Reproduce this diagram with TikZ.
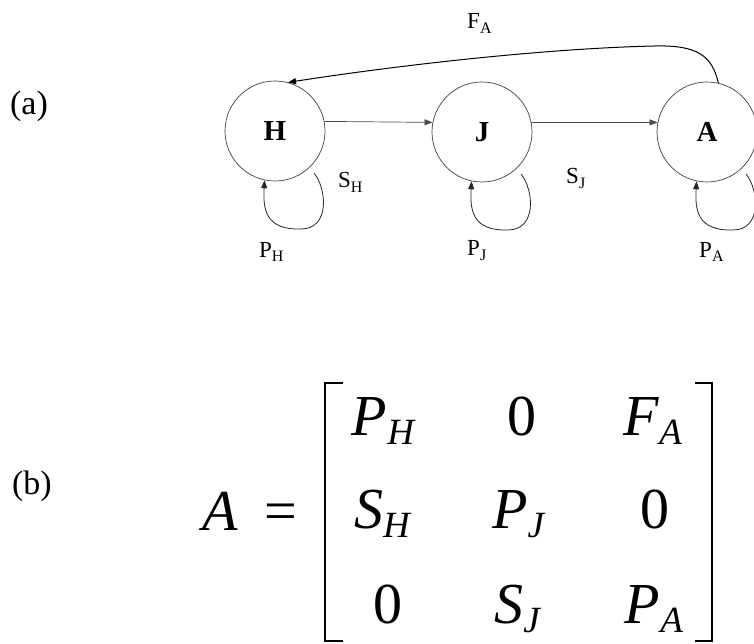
\documentclass[tikz,border=0pt]{standalone}
\usepackage{fontspec}
\setmainfont{Liberation Serif}
\usetikzlibrary{arrows.meta}
\newcommand\fs[1]{\fontsize{#1}{#1}\selectfont}
\newcommand\lab[2]{#1\raisebox{-5pt}{\fs{16}#2}}
\newcommand\ent[2]{\itshape #1\raisebox{-9pt}{\fs{37}\itshape #2}}
\newcommand\sloop[1]{\draw[loopln] ([shift={(39,42)}]#1.center) .. controls ([shift={(52,58)}]#1.center) and ([shift={(55,98)}]#1.center) .. ([shift={(26,98)}]#1.center) .. controls ([shift={(-10,99)}]#1.center) and ([shift={(-12,78)}]#1.center) .. (#1.-102);}
\begin{document}
\begin{tikzpicture}[x=1pt,y=-1pt,
  state/.style={circle,draw=black!75,line width=0.7pt,minimum size=100pt,inner sep=0pt,font=\fs{29}\bfseries},
  lbl/.style={anchor=base west,inner sep=0pt,font=\fs{23}},
  tag/.style={inner sep=0pt,font=\fs{34}},
  ent/.style={anchor=base,inner sep=0pt,font=\fs{58}},
  tipa/.style={-{Triangle[length=8pt,width=6pt]}},
  link/.style={tipa,draw=black!70,line width=0.7pt},
  falink/.style={tipa,draw=black,line width=1pt},
  loopln/.style={tipa,draw=black!85,line width=0.8pt},
  brk/.style={draw=black,line width=2.5pt}
]
\useasboundingbox (0,0) rectangle (754,644);
% (a) diagram
\node[tag] (ta) at (29,106) {(a)};
\node[state] (H) at (275,131) {H};
\node[state] (J) at (482,132) {J};
\node[state] (A) at (707,132) {A};
\draw[link] (H.11) -- (J.169);
\draw[link] (J.11) -- (A.169);
\coordinate (fa) at (655,46);
\draw[falink] (A.77) .. controls (712,56) and (698,45) .. (fa) .. controls (560,48) and (420,62) .. (H.75);
\sloop{H}
\sloop{J}
\sloop{A}
\node[lbl] (lFA) at (467,29) {\lab{F}{A}};
\node[lbl] (lPH) at (259,257) {\lab{P}{H}};
\node[lbl] (lSH) at (338,188) {\lab{S}{H}};
\node[lbl] (lPJ) at (467,255) {\lab{P}{J}};
\node[lbl] (lSJ) at (566,184) {\lab{S}{J}};
\node[lbl] (lPA) at (699,257) {\lab{P}{A}};
% (b) matrix
\node[tag] (tb) at (32,486) {(b)};
\node[ent] (mA) at (220,530) {\itshape A};
\node[ent] (meq) at (281,530) {=};
\draw[brk] (343,383) -- (325,383) -- (325,641) -- (343,641);
\draw[brk] (695,383) -- (712,383) -- (712,641) -- (695,641);
\node[ent] (m11) at (383,435) {\ent{P}{H}};
\node[ent] (m12) at (522,435) {0};
\node[ent] (m13) at (653,435) {\ent{F}{A}};
\node[ent] (m21) at (382,528) {\ent{S}{H}};
\node[ent] (m22) at (518,528) {\ent{P}{J}};
\node[ent] (m23) at (655,528) {0};
\node[ent] (m31) at (388,623) {0};
\node[ent] (m32) at (517,623) {\ent{S}{J}};
\node[ent] (m33) at (654,623) {\ent{P}{A}};
\end{tikzpicture}
\end{document}
